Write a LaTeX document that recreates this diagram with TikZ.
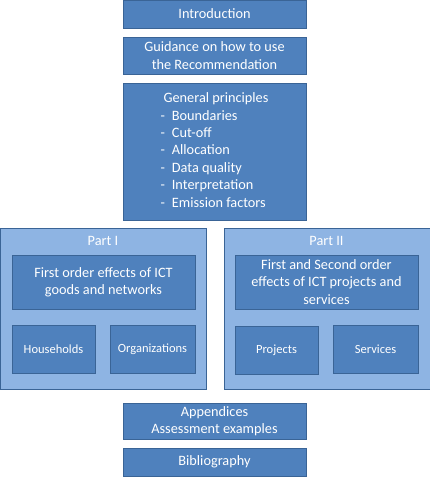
\documentclass[tikz,border=0pt]{standalone}
\usepackage{fontspec}
\setmainfont{Carlito}
\usepackage{tikz}
\definecolor{boxc}{HTML}{4F81BD}
\definecolor{edgec}{HTML}{3A6496}
\definecolor{partc}{HTML}{8EB4E3}
\tikzset{
  topic/.style={draw=edgec, fill=boxc, line width=0.9pt, text=white, align=center,
    inner sep=0pt, outer sep=0pt, font=\fontsize{14.3}{17.4}\selectfont},
  sub/.style={topic, font=\fontsize{12.5}{15}\selectfont},
  part/.style={draw=edgec, fill=partc, line width=0.9pt, inner sep=0pt, outer sep=0pt},
  title/.style={text=white, inner sep=0pt, font=\fontsize{14.3}{17.4}\selectfont},
}

\begin{document}
\begin{tikzpicture}[x=1pt,y=-1pt]
\useasboundingbox (0,0) rectangle (430,480);
\node[topic, minimum width=183pt, minimum height=28pt] (intro) at (214.5,14.0) {Introduction};
\node[topic, minimum width=183pt, minimum height=37pt] (guide) at (214.5,55.5) {Guidance on how to use\\the Recommendation};
\node[topic, minimum width=183pt, minimum height=137pt] (princ) at (214.5,151.5) {%
  \begin{tabular}{@{}l@{\hspace{7pt}}l@{}}
  \multicolumn{2}{@{\hspace{3pt}}l@{}}{General principles}\\
  -&Boundaries\\
  -&Cut-off\\
  -&Allocation\\
  -&Data quality\\
  -&Interpretation\\
  -&Emission factors
  \end{tabular}};
\node[part, minimum width=206pt, minimum height=160.5pt] (part1) at (103.0,308.8) {};
\node[part, minimum width=206pt, minimum height=160.5pt] (part2) at (327.0,308.8) {};
\node[title] (part1t) at (103.0,241.0) {Part I};
\node[title] (part2t) at (326.5,241.0) {Part II};
\node[topic, minimum width=183pt, minimum height=54pt] (first1) at (103.5,282.0) {First order effects of ICT\\goods and networks};
\node[topic, minimum width=183pt, minimum height=54pt] (first2) at (326.5,282.0) {First and Second order\\effects of ICT projects and\\services};
\node[sub, minimum width=83pt, minimum height=47.5pt] (house) at (53.5,349.5) {Households};
\node[sub, minimum width=85pt, minimum height=48pt] (orgs) at (152.5,349.0) {Organizations};
\node[sub, minimum width=83pt, minimum height=48pt] (proj) at (276.5,350.0) {Projects};
\node[sub, minimum width=85pt, minimum height=48pt] (serv) at (375.5,349.0) {Services};
\node[topic, minimum width=183pt, minimum height=36pt] (app) at (214.5,421.0) {Appendices\\Assessment examples};
\node[topic, minimum width=183pt, minimum height=28pt] (bib) at (214.5,462.0) {Bibliography};
\end{tikzpicture}
\end{document}
